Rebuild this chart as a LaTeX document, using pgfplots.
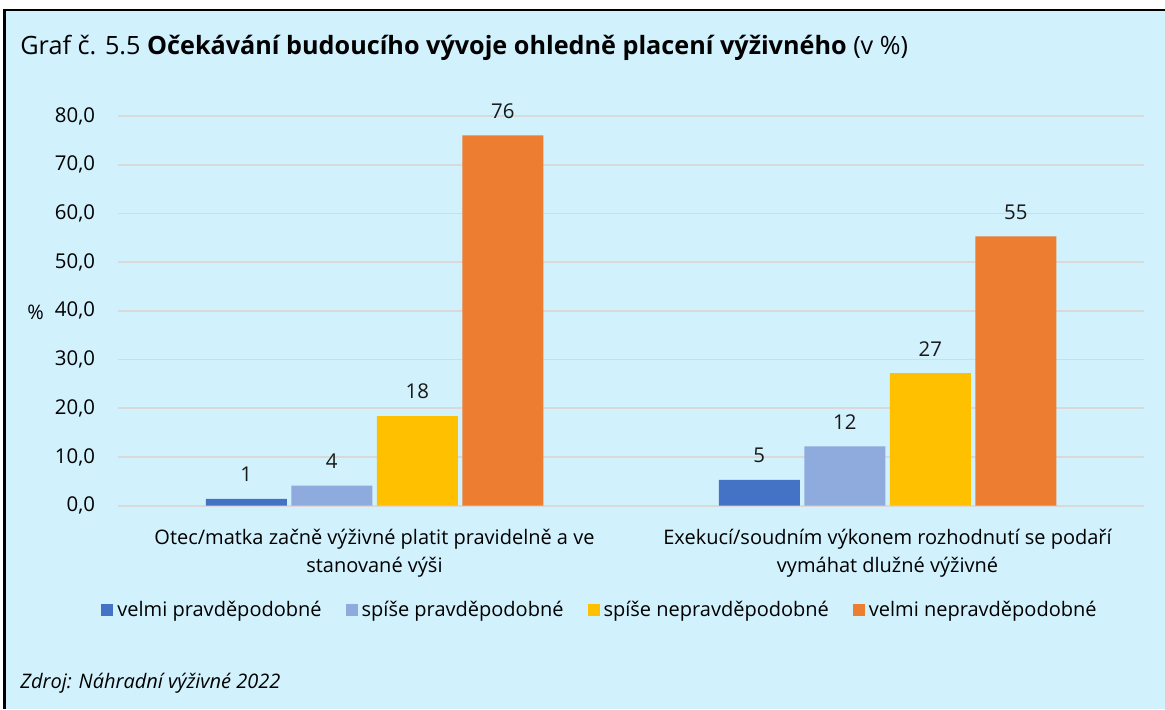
\documentclass[border=0pt]{standalone}
\usepackage{fontspec}
\setmainfont{Open Sans}
\usepackage{pgfplots}
\pgfplotsset{compat=1.18}

\definecolor{bg}{RGB}{209,241,253}
\definecolor{gridc}{RGB}{217,217,217}
\definecolor{c1}{RGB}{68,114,196}
\definecolor{c2}{RGB}{143,170,220}
\definecolor{c3}{RGB}{255,192,0}
\definecolor{c4}{RGB}{237,125,49}

\begin{document}
\begin{tikzpicture}
\useasboundingbox (0,0) rectangle (582.5pt,354.5pt);
\fill[white] (0,0) rectangle (582.5pt,354.5pt);
\fill[bg] (2pt,0) rectangle (582.5pt,349.5pt);
\draw[black,line width=1.2pt] (2.3pt,0) -- (2.3pt,349.5pt) -- (582.5pt,349.5pt);

\begin{axis}[
    at={(59pt,101.65pt)}, anchor=south west,
    scale only axis,
    width=513pt, height=194.85pt,
    ybar=2.25pt,
    bar width=40.5pt,
    xmin=-0.5, xmax=1.5,
    ymin=0, ymax=80,
    xtick={0,1},
    ytick={0,10,...,80},
    xticklabels={{Otec/matka začně výživné platit pravidelně a ve\\stanované výši},
                 {Exekucí/soudním výkonem rozhodnutí se podaří\\vymáhat dlužné výživné}},
    x tick label style={align=center, font=\fontsize{10}{14}\selectfont, yshift=-8pt},
    y tick label style={font=\fontsize{10.2}{12}\selectfont, xshift=-8pt},
    /pgf/number format/assume math mode=true,
    yticklabel style={/pgf/number format/.cd, fixed, fixed zerofill, precision=1, use comma},
    axis line style={draw=none},
    major tick length=0pt,
    ymajorgrids=true,
    grid style={draw=gridc, line width=0.9pt},
    nodes near coords={\pgfmathprintnumber[fixed,precision=0,assume math mode=true]{\pgfplotspointmeta}},
    every node near coord/.append style={font=\fontsize{10.2}{12}\selectfont, yshift=5pt, text=black!90},
    legend style={at={(0.4708,-0.2676)}, anchor=center, draw=none, fill=none,
        font=\fontsize{10}{12}\selectfont,
        /tikz/every even column/.append style={column sep=10pt}},
    legend columns=4,
    legend image code/.code={\fill[#1] (0pt,-3pt) rectangle (6pt,3pt);},
]
\addplot[fill=c1, draw=none] coordinates {(0,1.4) (1,5.3)};
\addplot[fill=c2, draw=none] coordinates {(0,4.1) (1,12.2)};
\addplot[fill=c3, draw=none] coordinates {(0,18.4) (1,27.2)};
\addplot[fill=c4, draw=none] coordinates {(0,76.0) (1,55.3)};
\legend{velmi pravděpodobné, spíše pravděpodobné, spíše nepravděpodobné, velmi nepravděpodobné}
\end{axis}

\node[anchor=base west, inner sep=0pt, font=\fontsize{12.6}{14}\selectfont] at (10pt,327pt)
    {Graf č. 5.5 \textbf{Očekávání budoucího vývoje ohledně placení výživného} (v \%)};
\node[font=\fontsize{10}{12}\selectfont] at (17.75pt,198.5pt) {\%};
\node[anchor=base west, inner sep=0pt, font=\itshape\fontsize{10}{12}\selectfont] at (10pt,10.5pt)
    {Zdroj: Náhradní výživné 2022};
\end{tikzpicture}
\end{document}
